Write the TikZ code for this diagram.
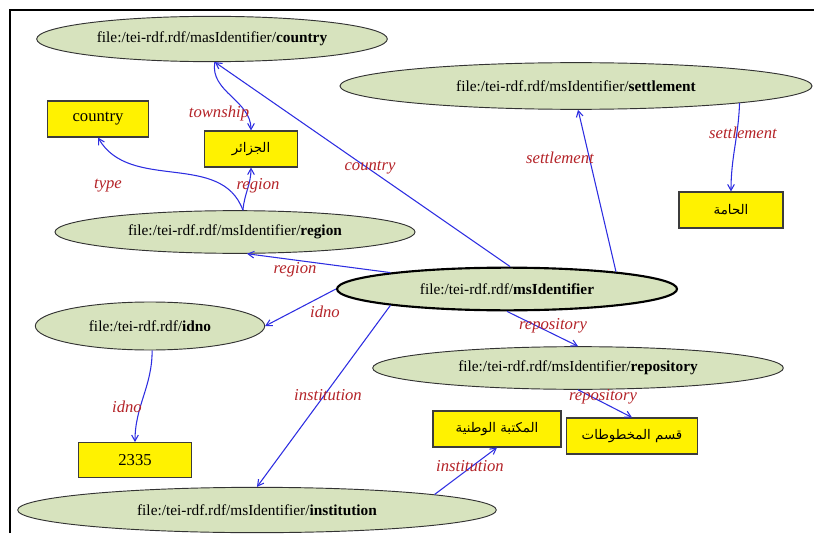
\documentclass[tikz,border=0pt]{standalone}
\usepackage{fontspec}
\setmainfont{Liberation Serif}
\newfontfamily\arabicfont[Script=Arabic]{DejaVu Sans}
\TeXXeTstate=1
\usetikzlibrary{positioning,arrows.meta,shapes.geometric}
\definecolor{resgreen}{RGB}{215,227,190}
\definecolor{edgeblue}{RGB}{45,45,225}
\definecolor{labelred}{RGB}{180,35,40}
\definecolor{boxgray}{RGB}{60,60,60}
\tikzset{
  relarrow/.style={-{Straight Barb[length=4.5pt,width=5pt]}, draw=edgeblue, line width=0.8pt},
  resnode/.style={ellipse, draw=black!80, line width=0.7pt, fill=resgreen, inner sep=0pt, font=\fontsize{11.5}{13}\selectfont},
  rootnode/.style={resnode, line width=1.6pt, draw=black},
  litnode/.style={draw=boxgray, line width=0.8pt, fill=yellow, minimum height=27pt, inner sep=0pt, font=\fontsize{12.5}{14}\selectfont},
  arnode/.style={litnode, font=\arabicfont\fontsize{10}{12}\selectfont},
  proplabel/.style={text=labelred, font=\itshape\fontsize{12.5}{14}\selectfont, inner sep=0pt}
}

\begin{document}
\begin{tikzpicture}[x=0.75pt, y=-0.75pt]
      \useasboundingbox (0,0) rectangle (814,535);
      \draw[line width=0.8pt] (10,533) -- (10,10) -- (814,10);
      % resources
      \node[resnode, minimum width=263pt, minimum height=34pt] (country) at (212,39) {file:/tei-rdf.rdf/masIdentifier/\textbf{country}};
      \node[resnode, minimum width=354pt, minimum height=35pt] (settlement) at (576,86) {file:/tei-rdf.rdf/msIdentifier/\textbf{settlement}};
      \node[resnode, minimum width=270pt, minimum height=32pt] (region) at (235,232) {file:/tei-rdf.rdf/msIdentifier/\textbf{region}};
      \node[rootnode, minimum width=255pt, minimum height=32pt] (msid) at (507,289) {file:/tei-rdf.rdf/\textbf{msIdentifier}};
      \node[resnode, minimum width=172pt, minimum height=36pt] (idno) at (150,326) {file:/tei-rdf.rdf/\textbf{idno}};
      \node[resnode, minimum width=308pt, minimum height=32pt] (repository) at (578,368) {file:/tei-rdf.rdf/msIdentifier/\textbf{repository}};
      \node[resnode, minimum width=359pt, minimum height=34pt] (institution) at (257,510) {file:/tei-rdf.rdf/msIdentifier/\textbf{institution}};
      % literals
      \node[litnode, minimum width=76pt] (countryval) at (98,119) {country};
      \node[arnode, minimum width=70pt] (regionval) at (251,149) {\beginR الجزائر\endR};
      \node[arnode, minimum width=78pt] (settleval) at (731,210) {\beginR الحامة\endR};
      \node[litnode, minimum width=85pt, minimum height=26pt] (idnoval) at (135,460) {2335};
      \node[arnode, minimum width=96pt] (instval) at (497,429) {\beginR المكتبة الوطنية\endR};
      \node[arnode, minimum width=98pt] (repoval) at (632,436) {\beginR قسم المخطوطات\endR};
      % properties
      \draw[relarrow] (msid.82) -- (country.-83);
      \draw[relarrow] (msid.9) -- (settlement.-85);
      \draw[relarrow] (settlement.-6) to[out=-92,in=90] (settleval.north);
      \draw[relarrow] (msid.172) -- (region.-61);
      \draw[relarrow] (region.70) to[out=110,in=-60] (countryval.south);
      \draw[relarrow] (region.70) to[out=85,in=-90] (regionval.south);
      \draw[relarrow] (country.-83) to[out=-100,in=90] (regionval.north);
      \draw[relarrow] (msid.west) -- (idno.east);
      \draw[relarrow] (idno.-85) to[out=-90,in=90] (idnoval.north);
      \draw[relarrow] (msid.188) -- (institution.north);
      \draw[relarrow] (institution.5) -- (instval.south);
      \draw[relarrow] (msid.south) -- (repository.north);
      \draw[relarrow] (repository.south) -- (repoval.north);
      % labels
      \node[proplabel] (lcountry) at (370,168) {country};
      \node[proplabel] (lsettle) at (560,158) {settlement};
      \node[proplabel] (lsettleval) at (743,133) {settlement};
      \node[proplabel] (lregion) at (295,270) {region};
      \node[proplabel] (ltype) at (108,186) {type};
      \node[proplabel] (lregionval) at (258,186) {region};
      \node[proplabel] (ltownship) at (219,113) {township};
      \node[proplabel] (lidno) at (325,312) {idno};
      \node[proplabel] (lidnoval) at (127,407) {idno};
      \node[proplabel] (linst) at (328,395) {institution};
      \node[proplabel] (linstval) at (470,466) {institution};
      \node[proplabel] (lrepo) at (553,326) {repository};
      \node[proplabel] (lrepoval) at (603,397) {repository};
    \end{tikzpicture}
\end{document}
